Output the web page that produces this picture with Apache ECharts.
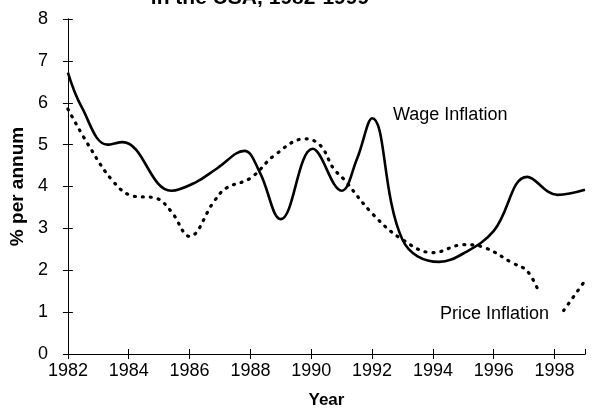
<!DOCTYPE html>
<html>
<head>
<meta charset="utf-8">
<script src="https://cdn.jsdelivr.net/npm/echarts@6/dist/echarts.min.js"></script>
<style>
  html, body { margin: 0; padding: 0; background: #fff; }
  #chart { width: 603px; height: 414px; }
</style>
</head>
<body>
<div id="chart"></div>
<script>
// wage inflation
const wageYears  = [1982, 1982.45, 1983.3, 1983.8, 1985.4, 1986.2, 1986.9, 1987.8, 1988.3, 1989.0, 1990.05, 1991.0, 1991.5, 1992.0, 1993.0, 1994.2, 1995.0, 1996.0, 1997.1, 1998.1, 1999.0];
const wageValues = [6.72, 5.9, 5.0, 5.06, 3.9, 4.1, 4.43, 4.85, 4.35, 3.22, 4.9, 3.9, 4.65, 5.63, 2.73, 2.2, 2.4, 2.94, 4.23, 3.8, 3.92];

// price inflation, '-' leaves the gap where the label sits
const priceYears  = [1982, 1982.75, 1983.5, 1984.1, 1984.9, 1985.4, 1986.0, 1986.8, 1987.2, 1988.0, 1988.8, 1989.8, 1990.3, 1990.73, 1991.05, 1992.05, 1993.0, 1994.0, 1995.0, 1995.7, 1996.6, 1997.1, 1997.5, 1997.9, 1998.3, 1999.0];
const priceValues = [5.85, 4.9, 4.11, 3.78, 3.72, 3.4, 2.81, 3.64, 3.96, 4.2, 4.75, 5.14, 4.98, 4.43, 4.19, 3.32, 2.73, 2.42, 2.61, 2.54, 2.18, 1.98, 1.45, '-', 1.04, 1.75];

const yTicks = [0, 1, 2, 3, 4, 5, 6, 7, 8];

const font = 'Liberation Sans, Arial, sans-serif';
const chart = echarts.init(document.getElementById('chart'));

const baseX = {
  type: 'value', min: 1982, max: 1999, interval: 2,
  axisLine: { lineStyle: { color: '#000', width: 1 } },
  splitLine: { show: false }
};
const baseY = {
  type: 'value', min: yTicks[0], max: yTicks[yTicks.length - 1], interval: 1,
  axisLine: { show: true, lineStyle: { color: '#000', width: 1 } },
  splitLine: { show: false }
};

chart.setOption({
  animation: false,
  grid: { left: 67, right: 18, top: 19, bottom: 57 },
  graphic: [
    // title is cut off at the top of the picture
    { type: 'text', x: 260, y: 9, silent: true,
      style: { text: 'Wage and Price Inflation\nin the USA, 1982-1999', font: 'bold 21px ' + font, fill: '#000', align: 'center', verticalAlign: 'bottom' } },
    { type: 'text', x: 393, y: 106, style: { text: 'Wage Inflation', font: '18px ' + font, fill: '#000' } },
    { type: 'text', x: 440, y: 305, style: { text: 'Price Inflation', font: '18px ' + font, fill: '#000' } }
  ],
  xAxis: [
    Object.assign({}, baseX, {
      name: 'Year', nameLocation: 'middle', nameGap: 38,
      nameTextStyle: { color: '#000', fontFamily: font, fontWeight: 'bold', fontSize: 17 },
      axisTick: { length: 5, lineStyle: { color: '#000' } },
      axisLabel: { color: '#000', fontFamily: font, fontSize: 18, margin: 8, formatter: v => String(v) }
    }),
    Object.assign({}, baseX, {
      position: 'bottom',
      axisTick: { inside: true, length: 5, lineStyle: { color: '#000' } },
      axisLabel: { show: false }
    })
  ],
  yAxis: [
    Object.assign({}, baseY, {
      name: '% per annum', nameLocation: 'middle', nameGap: 38, nameRotate: 90,
      nameTextStyle: { color: '#000', fontFamily: font, fontWeight: 'bold', fontSize: 19 },
      axisTick: { length: 5, lineStyle: { color: '#000' } },
      axisLabel: { color: '#000', fontFamily: font, fontSize: 18, margin: 20 }
    }),
    Object.assign({}, baseY, {
      position: 'left',
      axisTick: { inside: true, length: 5, lineStyle: { color: '#000' } },
      axisLabel: { show: false }
    })
  ],
  series: [
    {
      name: 'Wage Inflation', type: 'line', smooth: 0.4, symbol: 'none',
      lineStyle: { color: '#000', width: 2.6 },
      data: wageYears.map((y, i) => [y, wageValues[i]])
    },
    {
      name: 'Price Inflation', type: 'line', smooth: 0.4, symbol: 'none',
      connectNulls: false,
      lineStyle: { color: '#000', width: 3.2, type: [1, 7], cap: 'round' },
      data: priceYears.map((y, i) => [y, priceValues[i]])
    }
  ]
});
</script>
</body>
</html>
